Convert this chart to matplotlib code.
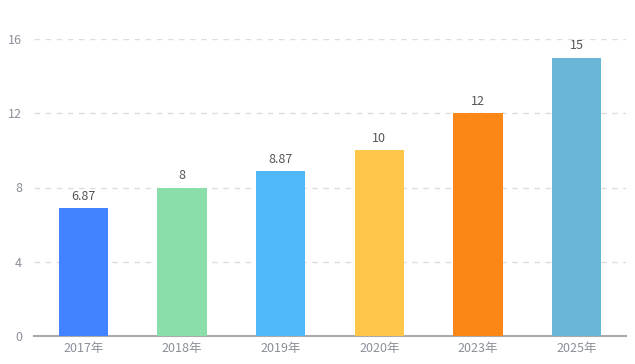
import matplotlib
matplotlib.use("Agg")
import matplotlib.pyplot as plt

plt.rcParams['font.family'] = ['Noto Sans CJK SC', 'DejaVu Sans']

categories = ['2017年', '2018年', '2019年', '2020年', '2023年', '2025年']
values = [6.87, 8, 8.87, 10, 12, 15]
labels = ['6.87', '8', '8.87', '10', '12', '15']
colors = ['#4281FF', '#8ADEA9', '#4FB8F9', '#FFC64A', '#FC8719', '#6AB6D9']
yticks = [0, 4, 8, 12, 16]

fig = plt.figure(figsize=(6.35, 3.64), dpi=100)
ax = fig.add_axes([34/635, 28/364, 592/635, 297/364])

x = list(range(len(categories)))
bars = ax.bar(x, values, width=0.5, color=colors, zorder=3)
for xi, v, lab in zip(x, values, labels):
    ax.text(xi, v + 0.3, lab, ha='center', va='bottom', fontsize=9, color='#555555')

ax.set_xlim(-0.5, len(categories) - 0.5)
ax.set_ylim(0, 16)
ax.set_yticks(yticks)
ax.set_yticklabels([str(t) for t in yticks])
ax.set_xticks(x)
ax.set_xticklabels(categories)
ax.tick_params(axis='both', length=0, labelsize=9, labelcolor='#8a8f99')
ax.tick_params(axis='y', pad=8.5)
ax.tick_params(axis='x', pad=4)
for y in yticks[1:]:
    ax.axhline(y, color='#dddddd', linestyle=(0, (4, 4)), linewidth=1, zorder=1)
for s in ['top', 'right', 'left']:
    ax.spines[s].set_visible(False)
ax.spines['bottom'].set_color('#aaaaaa')
ax.spines['bottom'].set_linewidth(1.5)

fig.savefig('out.png', dpi=100)
